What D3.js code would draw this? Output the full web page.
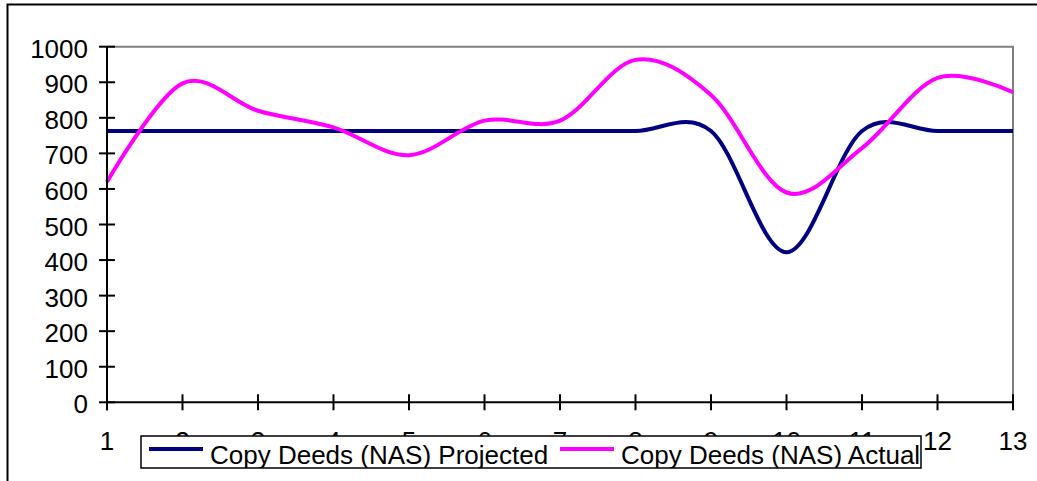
<!DOCTYPE html>
<html>
<head>
<meta charset="utf-8">
<script src="https://cdn.jsdelivr.net/npm/d3@7"></script>
<style>
  body { margin: 0; background: #fff; }
  svg { display: block; font-family: "Liberation Sans", Arial, sans-serif; }
</style>
</head>
<body>
<svg id="chart" width="1037" height="481"></svg>
<script>
const categories = ['1', '2', '3', '4', '5', '6', '7', '8', '9', '10', '11', '12', '13'];
const projected = [763, 763, 763, 763, 763, 763, 763, 763, 763, 422, 763, 763, 763];
const actual = [620, 897, 820, 773, 695, 792, 792, 963, 864, 590, 715, 912, 872];
const yTicks = [0, 100, 200, 300, 400, 500, 600, 700, 800, 900, 1000];

const series = [
  { name: 'Copy Deeds (NAS) Projected', values: projected, color: '#000080' },
  { name: 'Copy Deeds (NAS) Actual', values: actual, color: '#ff00ff' },
];

const svg = d3.select('#chart');
const plotLeft = 107, plotRight = 1013, plotTop = 46.7, plotBottom = 402.3;

const x = d3.scalePoint().domain(categories).range([plotLeft, plotRight]);
const y = d3.scaleLinear().domain([0, 1000]).range([plotBottom, plotTop]);

// outer chart border
svg.append('rect')
  .attr('x', 7.5).attr('y', 4.5)
  .attr('width', 1100).attr('height', 600)
  .attr('fill', '#fff')
  .attr('stroke', '#000').attr('stroke-width', 2);

// plot area border (top and right in grey)
svg.append('path')
  .attr('d', `M${plotLeft},${plotTop}H${plotRight}V${plotBottom}`)
  .attr('fill', 'none')
  .attr('stroke', '#808080').attr('stroke-width', 2);

const line = d3.line()
  .x((d, i) => x(categories[i]))
  .y(d => y(d))
  .curve(d3.curveCardinal.tension(0));

svg.selectAll('.series')
  .data(series)
  .enter()
  .append('path')
  .attr('class', 'series')
  .attr('d', d => line(d.values))
  .attr('fill', 'none')
  .attr('stroke', d => d.color)
  .attr('stroke-width', 4)
  .attr('stroke-linejoin', 'round');

// y axis with cross ticks
const yAxis = svg.append('g');
yAxis.append('line')
  .attr('x1', plotLeft).attr('x2', plotLeft)
  .attr('y1', plotTop).attr('y2', plotBottom + 8)
  .attr('stroke', '#000').attr('stroke-width', 2);
yAxis.selectAll('.ytick')
  .data(yTicks)
  .enter()
  .append('line')
  .attr('x1', plotLeft - 8).attr('x2', plotLeft + 8)
  .attr('y1', d => y(d)).attr('y2', d => y(d))
  .attr('stroke', '#000').attr('stroke-width', 2);
yAxis.selectAll('.ylabel')
  .data(yTicks)
  .enter()
  .append('text')
  .attr('x', 88)
  .attr('y', d => y(d) + 11)
  .attr('text-anchor', 'end')
  .attr('font-size', 26)
  .text(d => d);

// x axis with cross ticks
const xAxis = svg.append('g');
xAxis.append('line')
  .attr('x1', plotLeft).attr('x2', plotRight)
  .attr('y1', plotBottom).attr('y2', plotBottom)
  .attr('stroke', '#000').attr('stroke-width', 2);
xAxis.selectAll('.xtick')
  .data(categories)
  .enter()
  .append('line')
  .attr('x1', d => x(d)).attr('x2', d => x(d))
  .attr('y1', plotBottom - 8).attr('y2', plotBottom + 8)
  .attr('stroke', '#000').attr('stroke-width', 2);
xAxis.selectAll('.xlabel')
  .data(categories)
  .enter()
  .append('text')
  .attr('x', d => x(d))
  .attr('y', 450)
  .attr('text-anchor', 'middle')
  .attr('font-size', 26)
  .text(d => d);

// legend box, drawn over the x labels (as in the original)
const legend = svg.append('g');
legend.append('clipPath').attr('id', 'legend-clip')
  .append('rect')
  .attr('x', 141).attr('y', 436).attr('width', 780).attr('height', 32);
legend.append('rect')
  .attr('x', 141).attr('y', 436)
  .attr('width', 780).attr('height', 32)
  .attr('fill', '#fff')
  .attr('stroke', '#000').attr('stroke-width', 1.5);

const legendX = [149, 560];
const item = legend.append('g')
  .attr('clip-path', 'url(#legend-clip)')
  .selectAll('.item')
  .data(series)
  .enter()
  .append('g')
  .attr('transform', (d, i) => `translate(${legendX[i]}, 449)`);
item.append('line')
  .attr('x1', 0).attr('x2', 54)
  .attr('stroke', d => d.color)
  .attr('stroke-width', 4);
item.append('text')
  .attr('x', 61)
  .attr('y', 15)
  .attr('font-size', 26)
  .text(d => d.name);
</script>
</body>
</html>
